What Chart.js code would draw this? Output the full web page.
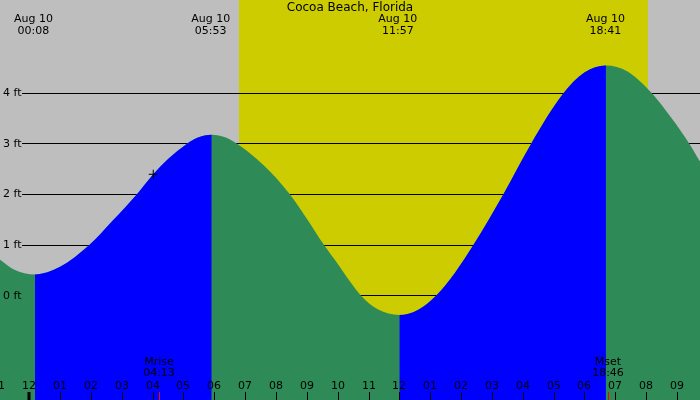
<!DOCTYPE html>
<html><head><meta charset="utf-8">
<script src="https://cdn.jsdelivr.net/npm/chart.js@4/dist/chart.umd.min.js"></script>
<style>html,body{margin:0;padding:0;background:#bebebe;overflow:hidden}#wrap{width:700px;height:400px;position:relative}</style>
</head><body><div id="wrap"><canvas id="c"></canvas></div>
<script>
const chartTitle = "Cocoa Beach, Florida";
// tide curve readings (hours from midnight Aug 10, feet)
const tideHours = [-0.95, -0.5, 0.185, 1.0, 1.946, 2.7, 3.484, 4.02, 4.5, 5.105, 5.45, 5.916, 6.3, 6.747, 7.6, 8.456, 9.0, 9.559, 10.0, 10.40, 10.76, 11.3, 12.0, 12.6, 13.19, 13.8, 14.40, 15.37, 16.27, 17.32, 18.0, 18.70, 19.4, 20.19, 20.8, 21.41, 21.75];
const tideFeet  = [0.71, 0.52, 0.42, 0.57, 1.0, 1.48, 2.0, 2.40, 2.70, 3.0, 3.12, 3.18, 3.14, 3.0, 2.58, 2.0, 1.52, 1.0, 0.63, 0.28, 0.0, -0.27, -0.38, -0.28, 0.0, 0.45, 1.0, 2.0, 3.0, 4.0, 4.41, 4.55, 4.43, 4.0, 3.53, 3.0, 2.65];
// high / low tide events
const extremeHours = [0.133, 5.883, 11.95, 18.683];
const extremeDates = ["Aug 10", "Aug 10", "Aug 10", "Aug 10"];
const extremeTimes = ["00:08", "05:53", "11:57", "18:41"];
// daylight (sunrise, sunset) in hours
const daylight = [6.8, 20.06];
// hour ticks
const hourTicks  = [-1,0,1,2,3,4,5,6,7,8,9,10,11,12,13,14,15,16,17,18,19,20,21];
const hourLabels = ["11","12","01","02","03","04","05","06","07","08","09","10","11","12","01","02","03","04","05","06","07","08","09"];
// feet ticks
const feetTicks  = [0, 1, 2, 3, 4];
const feetLabels = ["0 ft", "1 ft", "2 ft", "3 ft", "4 ft"];
// moon events
const moonHours = [4.217, 18.767];
const moonNames = ["Mrise", "Mset"];
const moonTimes = ["04:13", "18:46"];
// current time marker
const markerHours = [4.02];
const markerFeet  = [2.40];

const BLUE = "#0000ff", GREEN = "#2e8b57", GRAY = "#bebebe", YELLOW = "#cccc00";
const FONT = "11px 'DejaVu Sans'";

const bgPlugin = {
  id: "bg",
  beforeDraw(chart) {
    const {ctx, scales: {x}} = chart;
    ctx.save();
    ctx.fillStyle = GRAY;
    ctx.fillRect(0, 0, chart.width, chart.height);
    ctx.fillStyle = YELLOW;
    const x0 = x.getPixelForValue(daylight[0]), x1 = x.getPixelForValue(daylight[1]);
    ctx.fillRect(x0, 0, x1 - x0, chart.height);
    ctx.restore();
  },
  beforeDatasetsDraw(chart) {
    const {ctx, scales: {y}} = chart;
    ctx.save();
    ctx.strokeStyle = "#000";
    ctx.lineWidth = 1;
    feetTicks.forEach(v => {
      const py = Math.floor(y.getPixelForValue(v)) + 0.5;
      ctx.beginPath(); ctx.moveTo(22, py); ctx.lineTo(chart.width, py); ctx.stroke();
    });
    ctx.restore();
  },
  afterDatasetsDraw(chart) {
    const {ctx, scales: {x, y}} = chart;
    const H = chart.height;
    ctx.save();
    ctx.fillStyle = "#000";
    ctx.font = FONT;
    // y labels
    ctx.textAlign = "left"; ctx.textBaseline = "middle";
    feetTicks.forEach((v, i) => ctx.fillText(feetLabels[i], 3, y.getPixelForValue(v)));
    // hour ticks
    ctx.strokeStyle = "#000";
    ctx.textAlign = "center";
    hourTicks.forEach((h, i) => {
      const px = Math.round(x.getPixelForValue(h));
      ctx.lineWidth = (h % 24 === 0) ? 3 : 1;
      const ox = (h % 24 === 0) ? 0 : 0.5;
      ctx.beginPath(); ctx.moveTo(px + ox, H - 8); ctx.lineTo(px + ox, H); ctx.stroke();
      ctx.fillText(hourLabels[i], px, H - 14);
    });
    // moon
    moonHours.forEach((h, i) => {
      const px = Math.round(x.getPixelForValue(h));
      ctx.strokeStyle = "#ff0000"; ctx.lineWidth = 1;
      ctx.beginPath(); ctx.moveTo(px + 0.5, H - 8); ctx.lineTo(px + 0.5, H); ctx.stroke();
      ctx.fillText(moonNames[i], px, H - 38);
      ctx.fillText(moonTimes[i], px, H - 27);
    });
    // extremes top labels
    extremeHours.forEach((h, i) => {
      const px = x.getPixelForValue(h);
      ctx.fillText(extremeDates[i], px, 19.5);
      ctx.fillText(extremeTimes[i], px, 31.5);
    });
    // title
    ctx.font = "12px 'DejaVu Sans'";
    ctx.fillText(chartTitle, chart.width / 2, 7.5);
    ctx.restore();
  }
};

const tidePoints = tideHours.map((h, i) => ({x: h, y: tideFeet[i]}));

new Chart(document.getElementById("c"), {
  type: "line",
  data: {
    datasets: [{
      // marker
      type: "scatter",
      data: markerHours.map((h, i) => ({x: h, y: markerFeet[i]})),
      pointStyle: "cross",
      pointRadius: 4.5,
      borderColor: "#000",
      borderWidth: 1,
      backgroundColor: "#000",
      order: 0
    }, {
      // rising water (blue), on top
      data: tidePoints,
      fill: "start",
      borderWidth: 0,
      borderColor: "rgba(0,0,0,0)",
      pointRadius: 0,
      cubicInterpolationMode: "monotone",
      backgroundColor: BLUE,
      clip: false,
      segment: {
        backgroundColor: c => (c.p1.parsed.y > c.p0.parsed.y ? BLUE : "rgba(0,0,0,0)")
      },
      order: 1
    }, {
      // all water (green), underneath
      data: tidePoints,
      fill: "start",
      borderWidth: 0,
      borderColor: "rgba(0,0,0,0)",
      pointRadius: 0,
      cubicInterpolationMode: "monotone",
      backgroundColor: GREEN,
      clip: false,
      order: 2
    }]
  },
  options: {
    responsive: true,
    maintainAspectRatio: false,
    animation: false,
    layout: {padding: 0, autoPadding: false},
    plugins: {legend: {display: false}, tooltip: {enabled: false}, title: {display: false}},
    events: [],
    scales: {
      x: {type: "linear", min: -0.95, max: 21.75, display: false},
      y: {type: "linear", min: -2.061, max: 5.844, display: false}
    }
  },
  plugins: [bgPlugin]
});
</script>
</body></html>
